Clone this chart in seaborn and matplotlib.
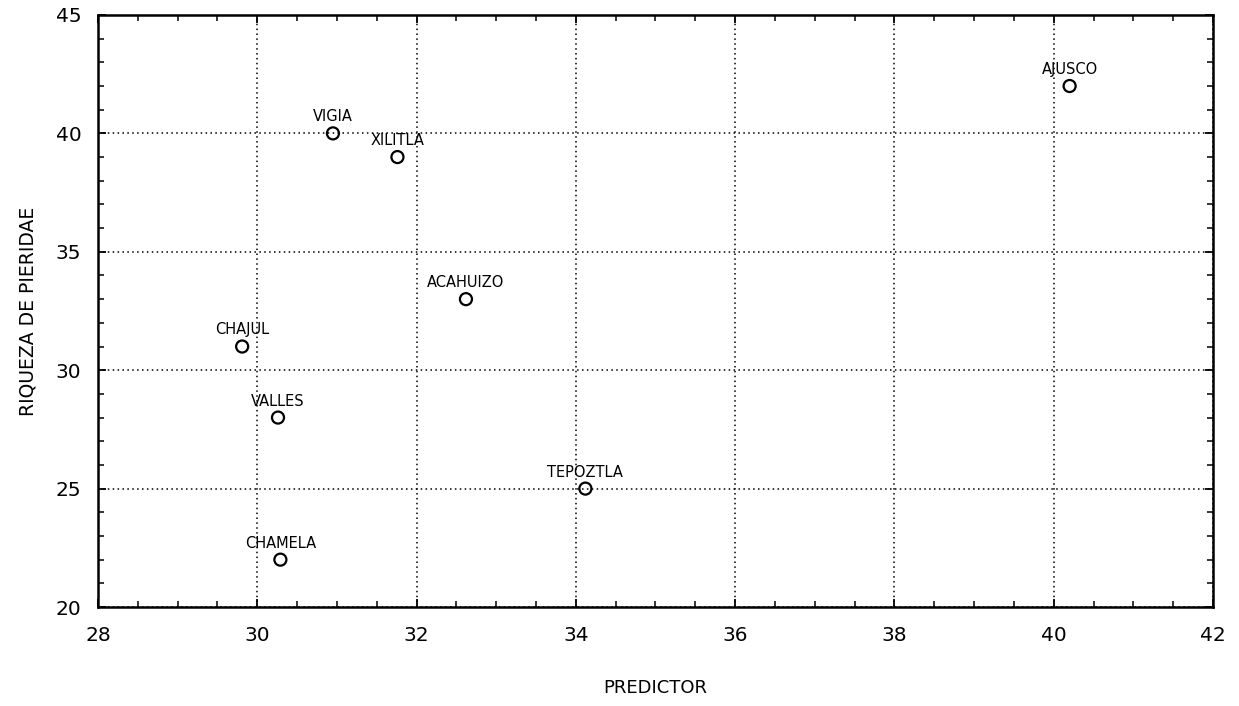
import matplotlib
matplotlib.use("Agg")
import matplotlib.pyplot as plt
import seaborn as sns
import pandas as pd
from matplotlib.ticker import MultipleLocator

sites = ["AJUSCO", "VIGIA", "XILITLA", "ACAHUIZO", "CHAJUL", "VALLES", "TEPOZTLA", "CHAMELA"]
predictor = [40.2, 30.95, 31.76, 32.62, 29.81, 30.26, 34.12, 30.29]
riqueza = [42, 40, 39, 33, 31, 28, 25, 22]

x_ticks = [28, 30, 32, 34, 36, 38, 40, 42]
y_ticks = [20, 25, 30, 35, 40, 45]

df = pd.DataFrame({"PREDICTOR": predictor, "RIQUEZA DE PIERIDAE": riqueza, "site": sites})

sns.set_style("white")
plt.rcParams["font.family"] = ["DejaVu Sans"]

fig = plt.figure(figsize=(12.39, 7.06), dpi=100)
ax = fig.add_axes([0.0791, 0.1402, 0.979 - 0.0791, 0.9788 - 0.1402])

sns.scatterplot(data=df, x="PREDICTOR", y="RIQUEZA DE PIERIDAE", ax=ax,
                marker="o", s=75, facecolor="none", edgecolor="black",
                linewidth=1.6, zorder=3)

for name, xv, yv in zip(sites, predictor, riqueza):
    ax.annotate(name, (xv, yv), xytext=(0, 6.5), textcoords="offset points",
                ha="center", va="bottom", fontsize=10.5, color="black")

ax.set_xlim(28, 42)
ax.set_ylim(20, 45)
ax.set_xticks(x_ticks)
ax.set_yticks(y_ticks)
ax.xaxis.set_minor_locator(MultipleLocator(0.5))
ax.yaxis.set_minor_locator(MultipleLocator(1))

ax.grid(True, which="major", color="black", linestyle=(0, (1, 2.2)), linewidth=1.1)
ax.set_axisbelow(True)

for sp in ax.spines.values():
    sp.set_visible(True)
    sp.set_color("black")
    sp.set_linewidth(1.8)

ax.tick_params(axis="both", which="both", bottom=True, top=True, left=True, right=True,
               direction="in", colors="black")
ax.tick_params(axis="both", which="major", length=6, width=1.3, labelsize=14.5)
ax.tick_params(axis="x", which="major", pad=14)
ax.tick_params(axis="y", which="major", pad=12)
ax.tick_params(axis="both", which="minor", length=4, width=1.1)

ax.set_xlabel("PREDICTOR", fontsize=13, labelpad=24, color="black")
ax.set_ylabel("RIQUEZA DE PIERIDAE", fontsize=13.5, labelpad=13, color="black")

fig.savefig("out.png", dpi=100, facecolor="white")
